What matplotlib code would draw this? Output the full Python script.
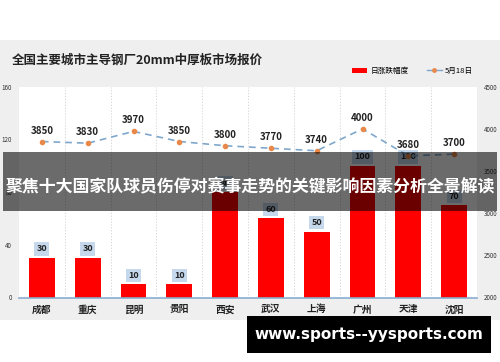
import numpy as np
import matplotlib
matplotlib.use('Agg')
import matplotlib.pyplot as plt
from matplotlib.patches import Rectangle
from matplotlib.lines import Line2D

plt.rcParams['font.family'] = ['Noto Sans CJK SC', 'DejaVu Sans']

cities = ['成都', '重庆', '昆明', '贵阳', '西安', '武汉', '上海', '广州', '天津', '沈阳']
change = [30, 30, 10, 10, 80, 60, 50, 100, 100, 70]
price = [3850, 3830, 3970, 3850, 3800, 3770, 3740, 4000, 3680, 3700]
left_ticks = [0, 40, 80, 120, 160]
right_ticks = [2000, 2500, 3000, 3500, 4000, 4500]

title = '全国主要城市主导钢厂20mm中厚板市场报价'
banner = '聚焦十大国家队球员伤停对赛事走势的关键影响因素分析全景解读'
watermark = 'www.sports--yysports.com'

W, H = 500, 362
fig = plt.figure(figsize=(W / 100, H / 100), dpi=100)
fig.patch.set_facecolor('white')

# gray panel behind the chart
fig.patches.append(Rectangle((0, (H - 320) / H), 1, 280 / H, transform=fig.transFigure,
                             facecolor='#f0eff0', edgecolor='none', zorder=-5))

ax = fig.add_axes([19 / W, (H - 297.5) / H, 458 / W, 210.8 / H])
ax.set_facecolor('white')
x = np.arange(len(cities))

ax.bar(x, change, width=0.56, color='#ff0000', zorder=2)
for xi, v in zip(x, change):
    ax.annotate(str(v), (xi, v), xytext=(0, 9), textcoords='offset pixels',
                ha='center', va='center', fontsize=6.5, fontweight='bold', color='#222222',
                bbox=dict(boxstyle='square,pad=0.25', facecolor='#c5d8ec', edgecolor='none'),
                zorder=3)

ax.set_xlim(-0.5, len(cities) - 0.5)
ax.set_ylim(0, 160)
ax.set_yticks(left_ticks)
ax.set_xticks(x)
ax.set_xticklabels(cities, fontsize=7, fontweight='bold', color='#222222')
ax.tick_params(axis='x', length=0, pad=5)
ax.tick_params(axis='y', length=0, labelsize=4.5, colors='#333333', pad=5)
for b in np.arange(0.5, len(cities) - 0.5, 1):
    ax.axvline(b, color='#d0d0d0', linestyle=(0, (1.5, 2)), linewidth=0.6, zorder=1)
for s in ['top', 'left', 'right']:
    ax.spines[s].set_visible(False)
ax.spines['bottom'].set_color('#88aed0')
ax.spines['bottom'].set_linewidth(1.2)

ax2 = ax.twinx()
ax2.plot(x, price, color='#7fa7cc', linestyle=(0, (4, 3)), linewidth=1.2,
         marker='o', markersize=3, markerfacecolor='#e8894a', markeredgecolor='#e8894a')
for xi, v in zip(x, price):
    ax2.annotate(str(v), (xi, v), xytext=(0, 11), textcoords='offset pixels',
                 ha='center', va='center', fontsize=7, fontweight='bold', color='#222222')
ax2.set_ylim(2000, 4500)
ax2.set_yticks(right_ticks)
ax2.tick_params(axis='y', length=0, labelsize=4.5, colors='#333333', pad=5)
for s in ['top', 'left', 'right', 'bottom']:
    ax2.spines[s].set_visible(False)

fig.text(12 / W, (H - 60) / H, title, fontsize=9, fontweight='bold', color='#222222',
         ha='left', va='center')

handles = [Rectangle((0, 0), 1, 1, facecolor='#ff0000', edgecolor='none'),
           Line2D([0], [0], color='#7fa7cc', linewidth=1, marker='o', markersize=2.5,
                  markerfacecolor='#e8894a', markeredgecolor='#e8894a')]
fig.legend(handles, ['日涨跌幅度', '5月18日'], loc='center right',
           bbox_to_anchor=(480 / W, (H - 71) / H), ncol=2, frameon=False,
           fontsize=5.5, handlelength=2.0, handleheight=0.6, columnspacing=2.4,
           handletextpad=0.4)

# banner overlay
fig.patches.append(Rectangle((3 / W, (H - 211) / H), 494 / W, 59 / H, transform=fig.transFigure,
                             facecolor='black', alpha=0.58, edgecolor='none', zorder=10))
fig.text(0.5, (H - 186) / H, banner, fontsize=12.2, fontweight='bold', color='white',
         ha='center', va='center', zorder=11)

# watermark
fig.patches.append(Rectangle((247 / W, (H - 353) / H), 244 / W, 37 / H, transform=fig.transFigure,
                             facecolor='black', edgecolor='none', zorder=10))
fig.text(369 / W, (H - 335) / H, watermark, fontsize=11, fontweight='bold', color='white',
         ha='center', va='center', zorder=11, family='DejaVu Sans')

fig.savefig('out.png', dpi=100)
